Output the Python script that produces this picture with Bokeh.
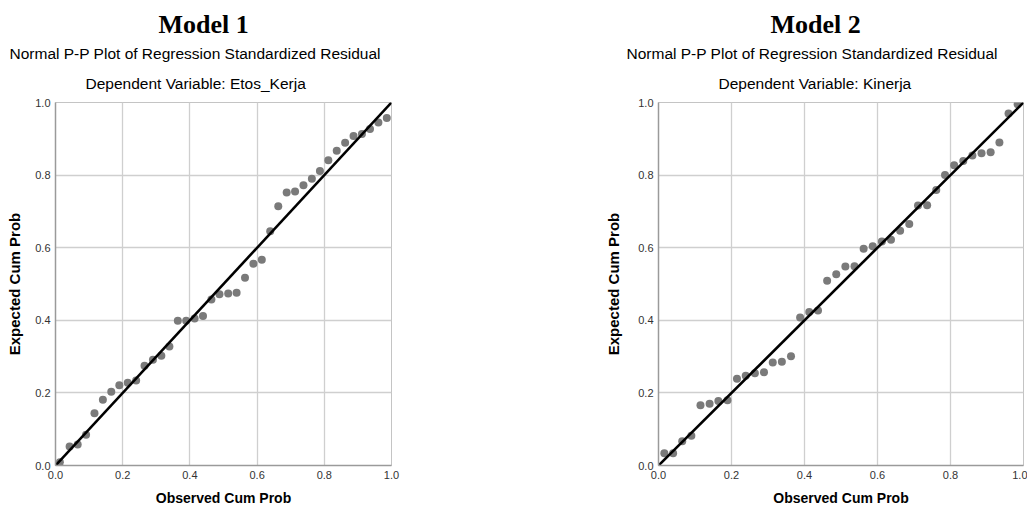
from bokeh.plotting import figure
from bokeh.layouts import row
from bokeh.models import Range1d, PrintfTickFormatter, Title
from bokeh.embed import file_html
from bokeh.resources import INLINE

# ---------------- data ----------------
MODEL_TITLES = ["Model 1", "Model 2"]
CHART_TITLE = "Normal P-P Plot of Regression Standardized Residual"
DEP_VARS = ["Dependent Variable: Etos_Kerja", "Dependent Variable: Kinerja"]
X_LABEL = "Observed Cum Prob"
Y_LABEL = "Expected Cum Prob"
TICKS = [0.0, 0.2, 0.4, 0.6, 0.8, 1.0]
DIAG = [0.0, 1.0]

obs1 = [0.013, 0.042, 0.066, 0.091, 0.116, 0.141, 0.166, 0.190, 0.215, 0.240,
        0.265, 0.290, 0.315, 0.339, 0.364, 0.389, 0.414, 0.439, 0.464, 0.488,
        0.514, 0.539, 0.564, 0.589, 0.614, 0.639, 0.663, 0.688, 0.713, 0.738,
        0.763, 0.787, 0.812, 0.837, 0.862, 0.887, 0.912, 0.936, 0.961, 0.986]
exp1 = [0.009, 0.052, 0.058, 0.085, 0.144, 0.181, 0.203, 0.221, 0.228, 0.234,
        0.275, 0.291, 0.302, 0.328, 0.399, 0.399, 0.405, 0.412, 0.457, 0.472,
        0.474, 0.476, 0.517, 0.556, 0.567, 0.645, 0.714, 0.752, 0.755, 0.772,
        0.790, 0.811, 0.841, 0.867, 0.889, 0.908, 0.913, 0.927, 0.945, 0.957]

obs2 = [0.016, 0.040, 0.065, 0.090, 0.115, 0.140, 0.164, 0.189, 0.215, 0.239,
        0.264, 0.289, 0.313, 0.338, 0.363, 0.388, 0.413, 0.437, 0.462, 0.487,
        0.512, 0.537, 0.562, 0.587, 0.612, 0.637, 0.662, 0.687, 0.711, 0.736,
        0.761, 0.785, 0.810, 0.835, 0.860, 0.885, 0.910, 0.934, 0.959, 0.984]
exp2 = [0.034, 0.034, 0.067, 0.082, 0.166, 0.170, 0.178, 0.180, 0.239, 0.247,
        0.254, 0.257, 0.284, 0.286, 0.301, 0.408, 0.423, 0.427, 0.509, 0.527,
        0.548, 0.549, 0.597, 0.604, 0.617, 0.622, 0.647, 0.665, 0.716, 0.717,
        0.759, 0.800, 0.827, 0.839, 0.854, 0.860, 0.863, 0.890, 0.970, 0.995]

SANS = "Liberation Sans"
SERIF = "Liberation Serif"


def make_plot(obs, exp, model, dep, width, b_left, b_right,
              model_off, chart_off, dep_off, ylab_standoff):
    p = figure(width=width, height=512,
               x_range=Range1d(0, 1), y_range=Range1d(0, 1),
               output_backend="svg", toolbar_location=None,
               min_border_left=b_left, min_border_right=b_right,
               min_border_top=102, min_border_bottom=47)
    p.background_fill_color = "white"
    p.border_fill_color = "white"
    p.outline_line_color = "#c4c4c4"
    p.outline_line_width = 1

    for ax in (p.xaxis[0], p.yaxis[0]):
        ax.ticker = TICKS
        ax.formatter = PrintfTickFormatter(format="%.1f")
        ax.major_tick_out = 0
        ax.major_tick_in = 0
        ax.minor_tick_out = 0
        ax.minor_tick_in = 0
        ax.axis_line_color = "#9a9a9a"
        ax.axis_line_width = 1.5
        ax.major_label_text_font = SANS
        ax.major_label_text_font_size = "11px"
        ax.major_label_text_color = "#333333"
        ax.major_label_standoff = 5
        ax.axis_label_text_font = SANS
        ax.axis_label_text_font_style = "bold"
        ax.axis_label_text_color = "black"
    p.xaxis.axis_label = X_LABEL
    p.xaxis.axis_label_text_font_size = "14px"
    p.xaxis.axis_label_standoff = 8
    p.yaxis.axis_label = Y_LABEL
    p.yaxis.axis_label_text_font_size = "15px"
    p.yaxis.axis_label_standoff = ylab_standoff

    p.grid.grid_line_color = "#cfcfcf"
    p.grid.grid_line_width = 1.3

    p.scatter(obs, exp, size=8, fill_color="#7a7a7a", line_color=None)
    p.line(DIAG, DIAG, line_color="black", line_width=2.6)

    # titles: first added is closest to the plot frame
    p.add_layout(Title(text=dep, align="left", offset=dep_off,
                       text_font=SANS, text_font_style="normal",
                       text_font_size="15.5px", text_color="black",
                       standoff=22), "above")
    p.add_layout(Title(text=CHART_TITLE, align="left", offset=chart_off,
                       text_font=SANS, text_font_style="normal",
                       text_font_size="15.5px", text_color="black",
                       standoff=0), "above")
    p.add_layout(Title(text=model, align="left", offset=model_off,
                       text_font=SERIF, text_font_style="bold",
                       text_font_size="26px", text_color="black",
                       standoff=8), "above")
    return p


p1 = make_plot(obs1, exp1, MODEL_TITLES[0], DEP_VARS[0], 598, 55, 207,
               103, -46, 30, 9)
p2 = make_plot(obs2, exp2, MODEL_TITLES[1], DEP_VARS[1], 429, 60, 4,
               112, -32, 60, 13)

layout = row(p1, p2)
open("out.html", "w").write(file_html(layout, INLINE))
